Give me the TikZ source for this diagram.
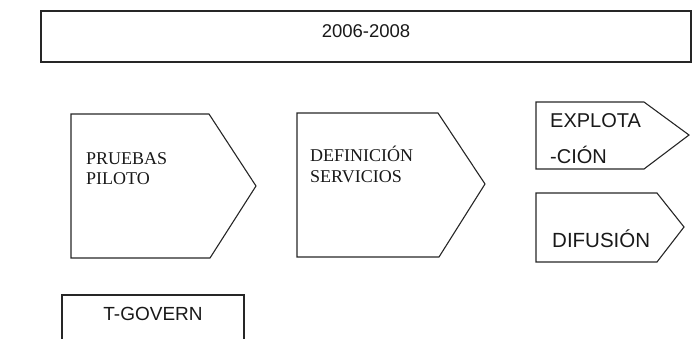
\documentclass[tikz,border=0pt]{standalone}
\usepackage{fontspec}
\setmainfont{Liberation Serif}
\setsansfont{Liberation Sans}
\begin{document}
\begin{tikzpicture}[x=1pt,y=-1pt,
  shapeline/.style={draw=black!85,line width=1.1pt,line join=miter},
  serifl/.style={inner sep=0pt,anchor=base west,font=\fontsize{18}{20}\selectfont\rmfamily,text=black!90},
  sansl/.style={inner sep=0pt,font=\fontsize{20}{22}\selectfont\sffamily,text=black!90}]
\useasboundingbox (0,0) rectangle (697,338);
% top period box
\draw[shapeline] (41,11) rectangle (691,62);
\node[sansl,anchor=base,font=\fontsize{18.5}{20}\selectfont\sffamily] (period) at (366,37) {2006-2008};
% arrow 1
\draw[shapeline] (71,114) -- (209,114) -- (256,186) -- (210,258) -- (71,258) -- cycle;
\node[serifl] (pruebas) at (86,164) {PRUEBAS};
\node[serifl] (piloto) at (86,184) {PILOTO};
% arrow 2
\draw[shapeline] (297,113) -- (438,113) -- (485,184) -- (439,257) -- (297,257) -- cycle;
\node[serifl] (definicion) at (310,161) {DEFINICIÓN};
\node[serifl] (servicios) at (310,182) {SERVICIOS};
% explotacion
\draw[shapeline] (536,102) -- (644,102) -- (689,135) -- (644,169) -- (536,169) -- cycle;
\node[sansl,anchor=base west] (explota) at (550,127) {EXPLOTA};
\node[sansl,anchor=base west] (cion) at (550,163) {-CIÓN};
% difusion
\draw[shapeline] (536,193) -- (657,193) -- (684,227) -- (657,262) -- (536,262) -- cycle;
\node[sansl,anchor=base west,font=\fontsize{20.5}{22}\selectfont\sffamily] (difusion) at (552,247) {DIFUSIÓN};
% t-govern
\draw[shapeline] (62,340) -- (62,295) -- (244,295) -- (244,340);
\node[sansl,anchor=base,font=\fontsize{19}{21}\selectfont\sffamily] (tgovern) at (153,320) {T-GOVERN};
\end{tikzpicture}
\end{document}
